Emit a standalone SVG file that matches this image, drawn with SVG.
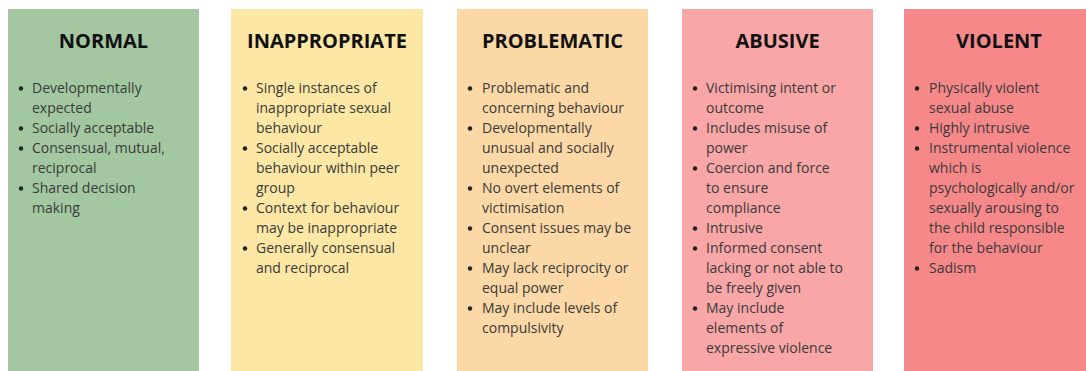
<svg xmlns="http://www.w3.org/2000/svg" width="1086" height="371" viewBox="0 0 1086 371">
<style>
.title{font-family:"Open Sans","Liberation Sans",sans-serif;font-weight:bold;font-size:20px;fill:#111;text-anchor:middle}
.body{font-family:"Open Sans","Liberation Sans",sans-serif;font-size:14px;fill:#3a3a3a}
.dot{fill:#222}
</style>
<rect width="1086" height="371" fill="#ffffff"/>
<g id="normal">
<rect x="8" y="9" width="191" height="362" fill="#a3c8a1"/>
<text class="title" x="103.5" y="48">NORMAL</text>
<g class="dot"><circle cx="21" cy="88.5" r="2.2"/><circle cx="21" cy="128.5" r="2.2"/><circle cx="21" cy="148.5" r="2.2"/><circle cx="21" cy="188.5" r="2.2"/></g>
<text class="body"><tspan x="32" y="93">Developmentally</tspan><tspan x="32" y="113">expected</tspan><tspan x="32" y="133">Socially acceptable</tspan><tspan x="32" y="153">Consensual, mutual,</tspan><tspan x="32" y="173">reciprocal</tspan><tspan x="32" y="193">Shared decision</tspan><tspan x="32" y="213">making</tspan></text>
</g>
<g id="inappropriate">
<rect x="231" y="9" width="192" height="362" fill="#fce7a4"/>
<text class="title" x="327" y="48">INAPPROPRIATE</text>
<g class="dot"><circle cx="245" cy="88.5" r="2.2"/><circle cx="245" cy="148.5" r="2.2"/><circle cx="245" cy="208.5" r="2.2"/><circle cx="245" cy="248.5" r="2.2"/></g>
<text class="body"><tspan x="256" y="93">Single instances of</tspan><tspan x="256" y="113">inappropriate sexual</tspan><tspan x="256" y="133">behaviour</tspan><tspan x="256" y="153">Socially acceptable</tspan><tspan x="256" y="173">behaviour within peer</tspan><tspan x="256" y="193">group</tspan><tspan x="256" y="213">Context for behaviour</tspan><tspan x="256" y="233">may be inappropriate</tspan><tspan x="256" y="253">Generally consensual</tspan><tspan x="256" y="273">and reciprocal</tspan></text>
</g>
<g id="problematic">
<rect x="457" y="9" width="191" height="362" fill="#fcd8a6"/>
<text class="title" x="552.5" y="48">PROBLEMATIC</text>
<g class="dot"><circle cx="470" cy="88.5" r="2.2"/><circle cx="470" cy="128.5" r="2.2"/><circle cx="470" cy="188.5" r="2.2"/><circle cx="470" cy="228.5" r="2.2"/><circle cx="470" cy="268.5" r="2.2"/><circle cx="470" cy="308.5" r="2.2"/></g>
<text class="body"><tspan x="482" y="93">Problematic and</tspan><tspan x="482" y="113">concerning behaviour</tspan><tspan x="482" y="133">Developmentally</tspan><tspan x="482" y="153">unusual and socially</tspan><tspan x="482" y="173">unexpected</tspan><tspan x="482" y="193">No overt elements of</tspan><tspan x="482" y="213">victimisation</tspan><tspan x="482" y="233">Consent issues may be</tspan><tspan x="482" y="253">unclear</tspan><tspan x="482" y="273">May lack reciprocity or</tspan><tspan x="482" y="293">equal power</tspan><tspan x="482" y="313">May include levels of</tspan><tspan x="482" y="333">compulsivity</tspan></text>
</g>
<g id="abusive">
<rect x="682" y="9" width="191" height="362" fill="#f9a6a7"/>
<text class="title" x="777.5" y="48">ABUSIVE</text>
<g class="dot"><circle cx="695" cy="88.5" r="2.2"/><circle cx="695" cy="128.5" r="2.2"/><circle cx="695" cy="168.5" r="2.2"/><circle cx="695" cy="228.5" r="2.2"/><circle cx="695" cy="248.5" r="2.2"/><circle cx="695" cy="308.5" r="2.2"/></g>
<text class="body"><tspan x="706" y="93">Victimising intent or</tspan><tspan x="706" y="113">outcome</tspan><tspan x="706" y="133">Includes misuse of</tspan><tspan x="706" y="153">power</tspan><tspan x="706" y="173">Coercion and force</tspan><tspan x="706" y="193">to ensure</tspan><tspan x="706" y="213">compliance</tspan><tspan x="706" y="233">Intrusive</tspan><tspan x="706" y="253">Informed consent</tspan><tspan x="706" y="273">lacking or not able to</tspan><tspan x="706" y="293">be freely given</tspan><tspan x="706" y="313">May include</tspan><tspan x="706" y="333">elements of</tspan><tspan x="706" y="353">expressive violence</tspan></text>
</g>
<g id="violent">
<rect x="904" y="9" width="182" height="362" fill="#f6888a"/>
<text class="title" x="999" y="48">VIOLENT</text>
<g class="dot"><circle cx="917" cy="88.5" r="2.2"/><circle cx="917" cy="128.5" r="2.2"/><circle cx="917" cy="148.5" r="2.2"/><circle cx="917" cy="268.5" r="2.2"/></g>
<text class="body"><tspan x="929" y="93">Physically violent</tspan><tspan x="929" y="113">sexual abuse</tspan><tspan x="929" y="133">Highly intrusive</tspan><tspan x="929" y="153">Instrumental violence</tspan><tspan x="929" y="173">which is</tspan><tspan x="929" y="193">psychologically and/or</tspan><tspan x="929" y="213">sexually arousing to</tspan><tspan x="929" y="233">the child responsible</tspan><tspan x="929" y="253">for the behaviour</tspan><tspan x="929" y="273">Sadism</tspan></text>
</g>
<g id="connectors"/>
</svg>
